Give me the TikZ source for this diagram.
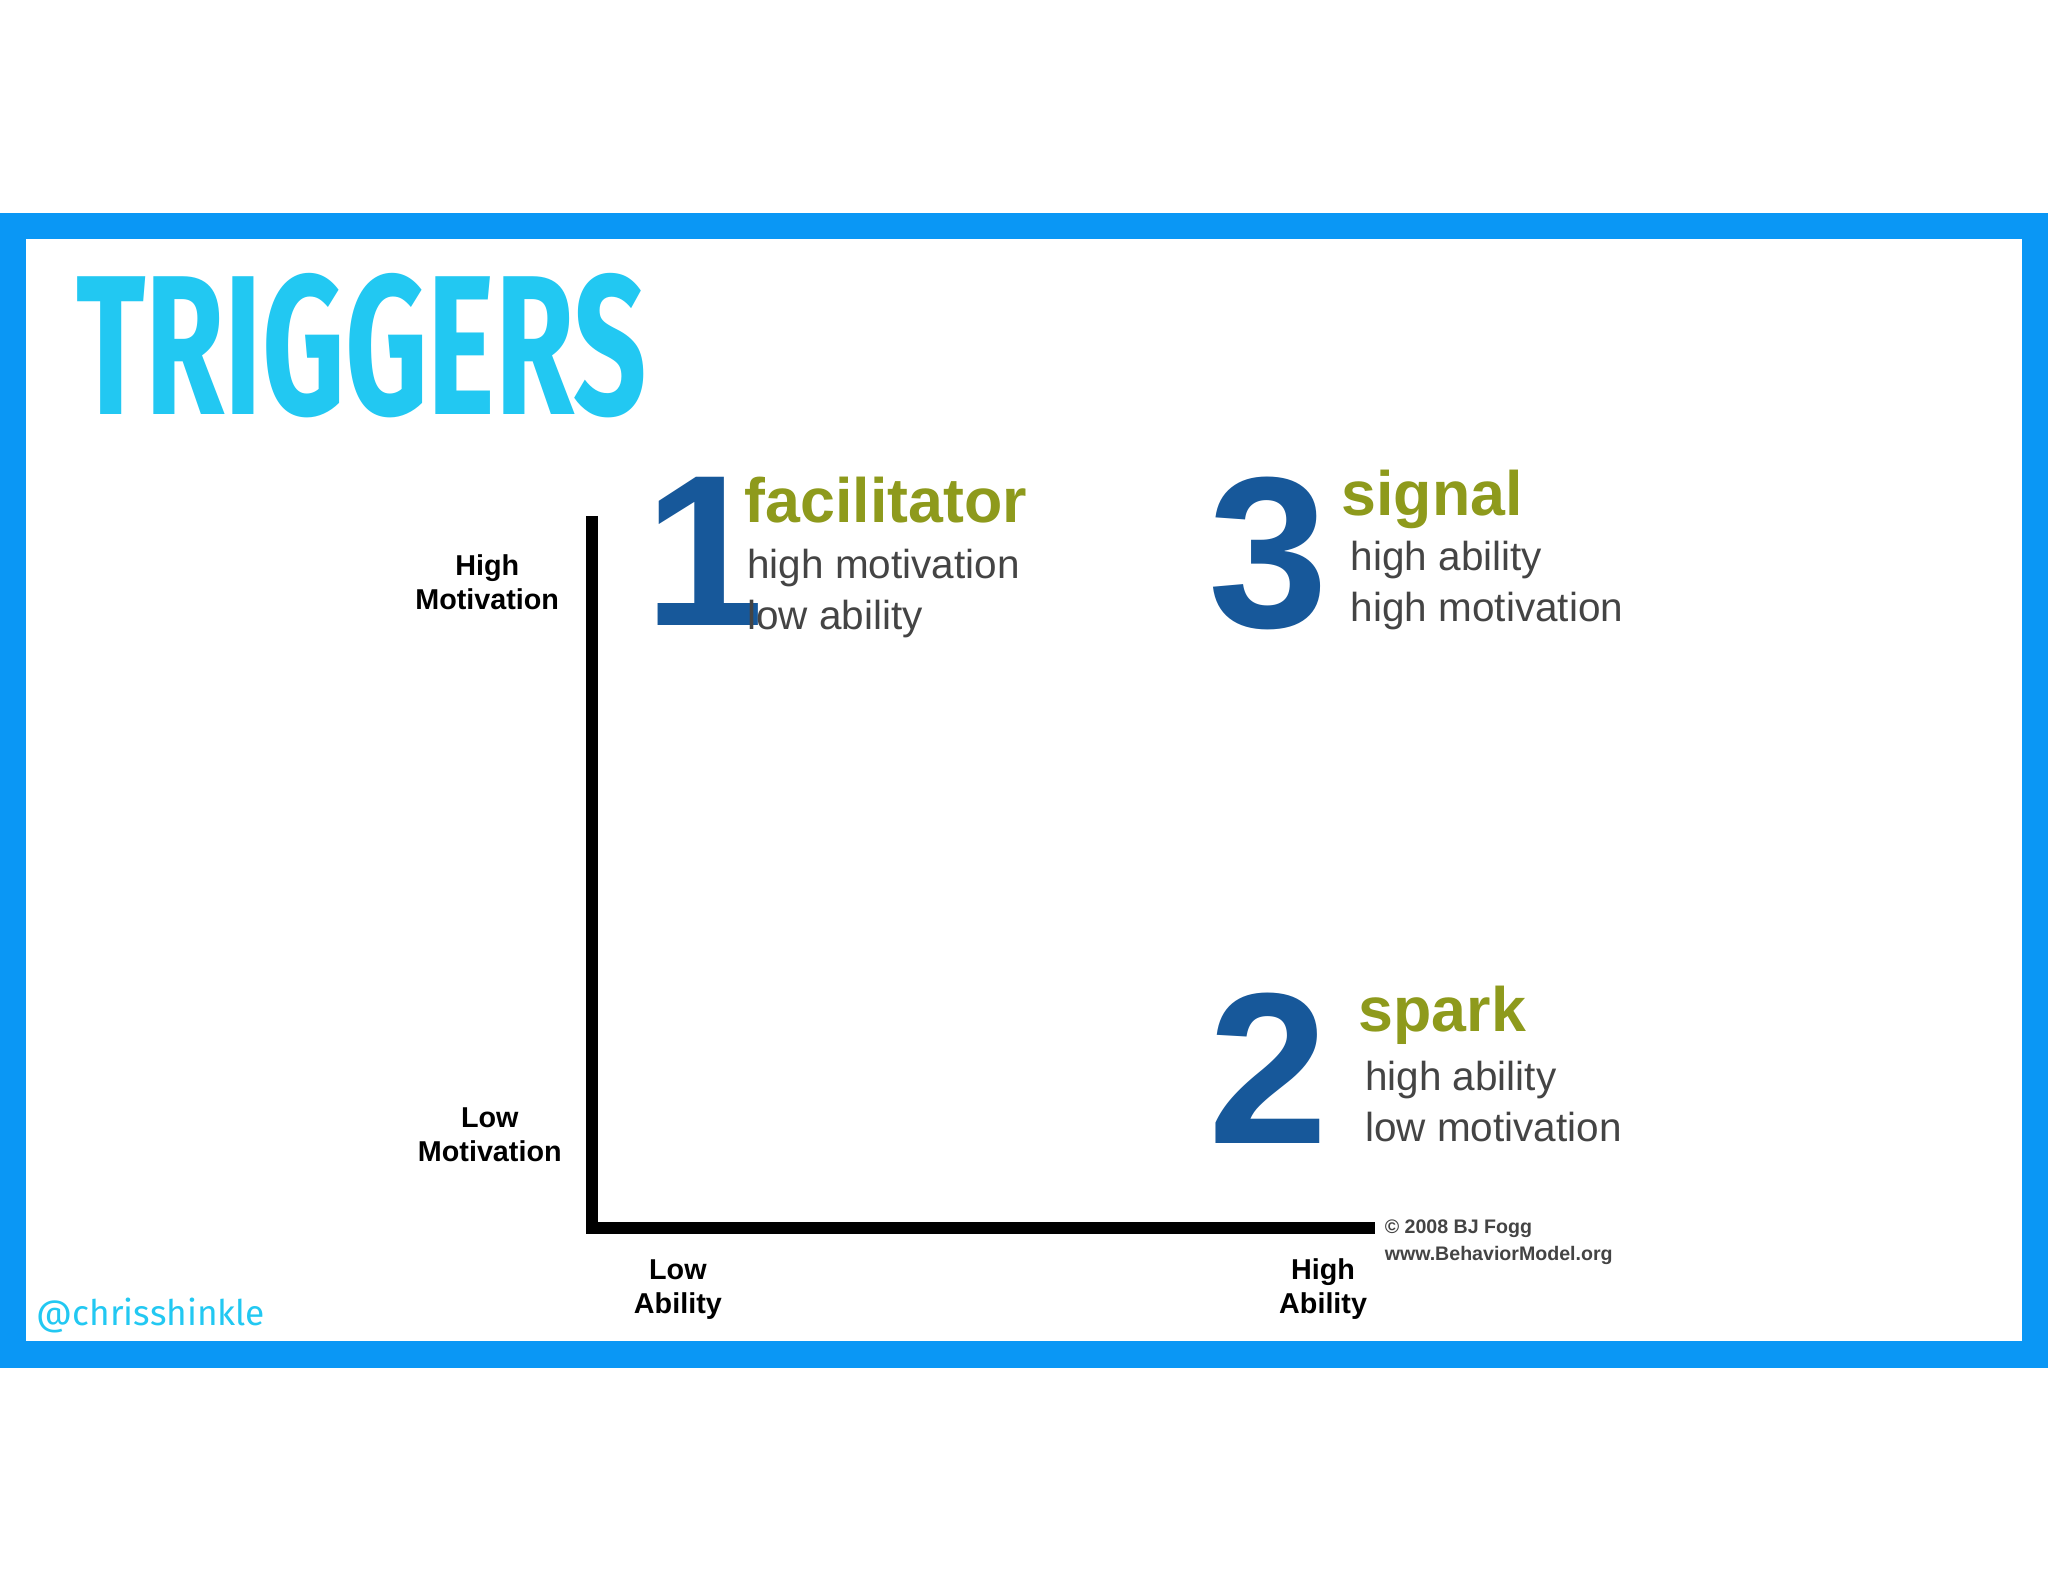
\documentclass[tikz,border=0pt]{standalone}
\usepackage{fontspec}
\setmainfont{Liberation Sans}
\newfontfamily\fira{Fira Sans}
\definecolor{frameblue}{HTML}{0A97F5}
\definecolor{cyantxt}{HTML}{22C8F2}
\definecolor{numblue}{HTML}{17589A}
\definecolor{olive}{HTML}{8E9A1C}
\definecolor{graytxt}{HTML}{444444}
\tikzset{
 axlab/.style={font=\fontsize{22}{26}\selectfont\bfseries, align=center, inner sep=0},
 bignum/.style={font=\fontsize{165}{165}\selectfont\bfseries, text=numblue, inner sep=0, anchor=north west},
 head/.style={font=\fontsize{48}{50}\selectfont\bfseries, text=olive, inner sep=0, anchor=north west},
 sub/.style={font=\fontsize{31}{39}\selectfont, text=graytxt, inner sep=0, anchor=north west, align=left},
}
\begin{document}
\begin{tikzpicture}[x=1pt,y=-1pt]
\useasboundingbox (0,0) rectangle (1568,1211);
\fill[white] (0,0) rectangle (1568,1211);
\fill[frameblue] (0,163) rectangle (1568,1047);
\fill[white] (20,183) rectangle (1548,1027);
\node[inner sep=0, anchor=south west, text=cyantxt] (title) at (58,320)
 {\resizebox{437pt}{108pt}{\fira\bfseries TRIGGERS}};
\node[inner sep=0, anchor=west, text=cyantxt, font=\fira\fontsize{27}{30}\selectfont] (handle) at (28,1007) {@chrisshinkle};
\coordinate (top) at (453,395);
\coordinate (origin) at (453,940);
\coordinate (right) at (1053,940);
\draw[line width=9pt] (top) -- (origin) -- (right);
\node[axlab] (hm) at (373,446) {High\\Motivation};
\node[axlab] (lm) at (375,869) {Low\\Motivation};
\node[axlab] (la) at (519,987) {Low\\Ability};
\node[axlab] (ha) at (1013,987) {High\\Ability};
\node[inner sep=0, anchor=north west, align=left, text=graytxt, font=\fontsize{15}{20}\selectfont\bfseries] (copy) at (1060,934) {© 2008 BJ Fogg\\www.BehaviorModel.org};
\node[bignum] (n1) at (493,365) {1};
\node[head] (h1) at (570,365) {facilitator};
\node[sub] (s1) at (572,420) {high motivation\\low ability};
\node[bignum] (n3) at (925,365) {3};
\node[head] (h3) at (1027,360) {signal};
\node[sub] (s3) at (1034,414) {high ability\\high motivation};
\node[bignum] (n2) at (925,760) {2};
\node[head] (h2) at (1040,755) {spark};
\node[sub] (s2) at (1045,812) {high ability\\low motivation};
\end{tikzpicture}
\end{document}
